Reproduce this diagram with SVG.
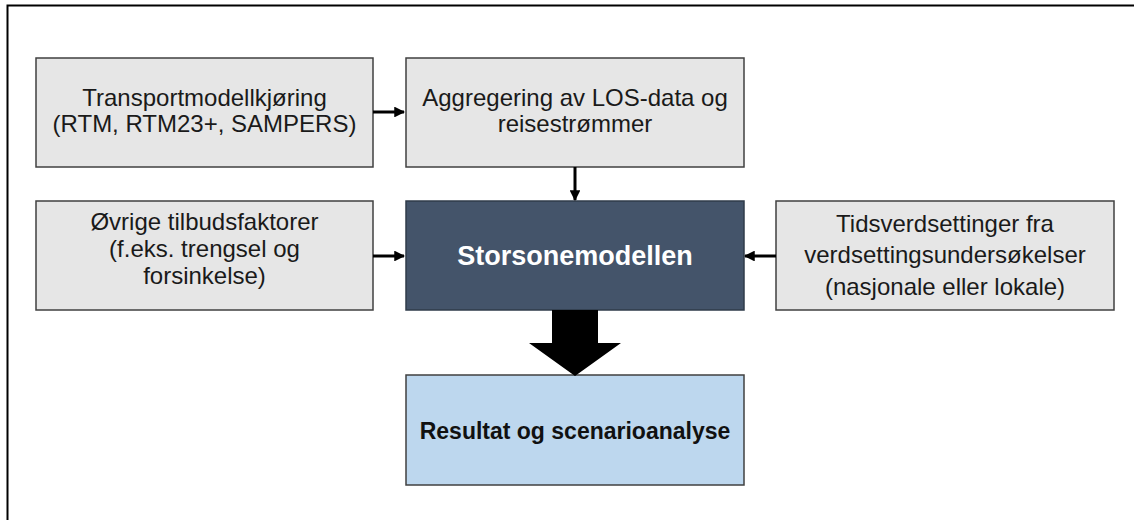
<svg xmlns="http://www.w3.org/2000/svg" width="1134" height="520" viewBox="0 0 1134 520">
  <defs>
    <style>
      .box { fill: #e6e6e6; stroke: #404040; stroke-width: 1.5; }
      .dark { fill: #44546a; stroke: #2f3b4a; stroke-width: 1.5; }
      .res { fill: #bdd7ee; stroke: #404040; stroke-width: 1.5; }
      .t { font-family: "Liberation Sans", Arial, sans-serif; font-size: 24px; fill: #1a1a1a; text-anchor: middle; }
      .b { font-family: "Liberation Sans", Arial, sans-serif; font-weight: bold; text-anchor: middle; }
      .conn { stroke: #000; stroke-width: 3; fill: none; }
    </style>
    <marker id="ah" viewBox="0 0 10 10" refX="9" refY="5" markerWidth="3.6" markerHeight="3.6" orient="auto" markerUnits="strokeWidth">
      <path d="M0,0 L10,5 L0,10 Z" fill="#000"/>
    </marker>
  </defs>
  <rect x="0" y="0" width="1134" height="520" fill="#fff"/>
  <path d="M7.5,520 V5.5 H1134" fill="none" stroke="#000" stroke-width="2"/>

  <g id="transportmodell">
    <rect class="box" x="36" y="58" width="337" height="109"/>
    <text class="t" x="204.5" y="106">Transportmodellkjøring</text>
    <text class="t" x="204.5" y="132">(RTM, RTM23+, SAMPERS)</text>
  </g>
  <g id="aggregering">
    <rect class="box" x="406" y="58" width="338" height="109"/>
    <text class="t" x="575" y="106">Aggregering av LOS-data og</text>
    <text class="t" x="575" y="132">reisestrømmer</text>
  </g>
  <g id="ovrige">
    <rect class="box" x="36" y="201" width="337" height="109"/>
    <text class="t" x="204.5" y="230">Øvrige tilbudsfaktorer</text>
    <text class="t" x="204.5" y="257">(f.eks. trengsel og</text>
    <text class="t" x="204.5" y="284">forsinkelse)</text>
  </g>
  <g id="storsonemodellen">
    <rect class="dark" x="406" y="201" width="338" height="109"/>
    <text class="b" x="575" y="265" fill="#ffffff" font-size="27">Storsonemodellen</text>
  </g>
  <g id="tidsverdsettinger">
    <rect class="box" x="776" y="201" width="338" height="109"/>
    <text class="t" x="945" y="232">Tidsverdsettinger fra</text>
    <text class="t" x="945" y="263">verdsettingsundersøkelser</text>
    <text class="t" x="945" y="295">(nasjonale eller lokale)</text>
  </g>
  <g id="resultat">
    <rect class="res" x="406" y="375" width="338" height="110"/>
    <text class="b" x="575" y="439" fill="#111" font-size="23">Resultat og scenarioanalyse</text>
  </g>

  <g id="connectors">
    <line class="conn" x1="373" y1="112" x2="404" y2="112" marker-end="url(#ah)"/>
    <line class="conn" x1="575" y1="167" x2="575" y2="200" marker-end="url(#ah)"/>
    <line class="conn" x1="373" y1="256" x2="404" y2="256" marker-end="url(#ah)"/>
    <line class="conn" x1="776" y1="256" x2="745" y2="256" marker-end="url(#ah)"/>
    <polygon points="552,310 598,310 598,343 621,343 575,376 529,343 552,343" fill="#000"/>
  </g>
</svg>
